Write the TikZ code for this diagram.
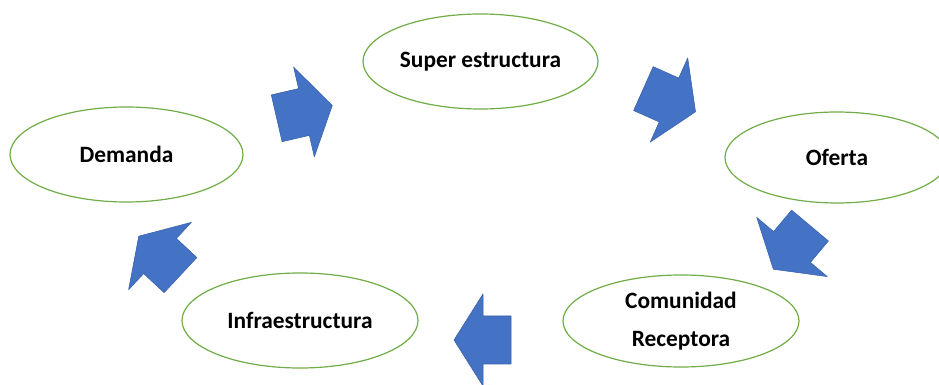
\documentclass[tikz,border=0pt]{standalone}
\usepackage{fontspec}
\setmainfont{Carlito}
\usetikzlibrary{shapes.geometric}
\definecolor{verde}{HTML}{70AD47}
\definecolor{azul}{HTML}{4472C4}
\definecolor{azulborde}{HTML}{3B64AD}
\begin{document}
\begin{tikzpicture}[line cap=round,line join=round,x=0.5pt,y=-0.5pt,
  elipse/.style={ellipse,draw=verde,line width=0.6pt,fill=white,inner sep=0pt,
    font=\fontsize{11.7pt}{14pt}\selectfont\bfseries},
  flecha/.style={fill=azul,draw=azulborde,line width=0.3pt}]
\useasboundingbox (0,0) rectangle (939,385);
\node[elipse,minimum width=116.5pt,minimum height=47.5pt] (demanda) at (126.5,154.5) {Demanda};
\node[elipse,minimum width=117.5pt,minimum height=47.5pt] (super) at (480.5,61.5) {Super estructura};
\node[elipse,minimum width=112pt,minimum height=45.5pt] (oferta) at (837,157.5) {Oferta};
\node[elipse,minimum width=118pt,minimum height=46pt,align=center] (comunidad) at (681,321) {Comunidad\\[5pt]Receptora};
\node[elipse,minimum width=118pt,minimum height=47.5pt] (infra) at (300,320.5) {Infraestructura};
% flechas del ciclo
\foreach \x/\y/\ang in {304/112/13, 669/100/-24, 792/247/-130, 483/340/180, 160/256/137}
\draw[flecha,shift={(\x,\y)},rotate=\ang] (-28,24) -- (0,24) -- (0,46) -- (29,0) -- (0,-46) -- (0,-24) -- (-28,-24) -- cycle;
\end{tikzpicture}
\end{document}
